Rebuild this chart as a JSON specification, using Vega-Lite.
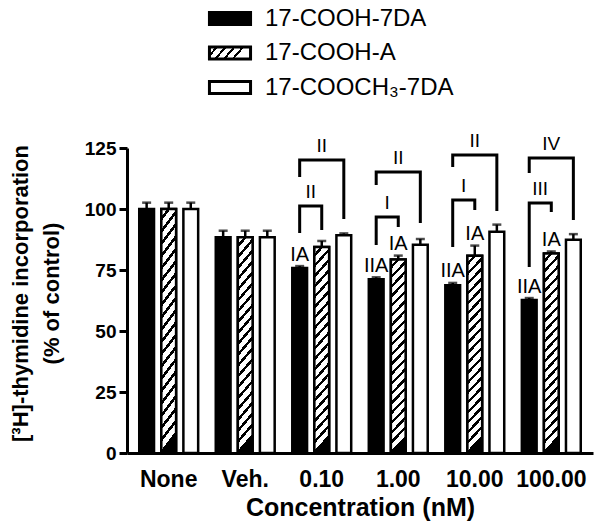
{
  "$schema": "https://vega.github.io/schema/vega-lite/v6.json",
  "width": 466,
  "height": 305,
  "autosize": {"type": "none"},
  "padding": {"left": 127, "top": 148, "right": 7, "bottom": 77},
  "background": "white",
  "config": {"view": {"stroke": null}, "font": "Liberation Sans"},
  "datasets": {
    "bars": [
      {"conc": "None", "series": "17-COOH-7DA", "value": 100, "upper": 102.6, "sig": ""},
      {"conc": "None", "series": "17-COOH-A", "value": 100, "upper": 102.6, "sig": ""},
      {"conc": "None", "series": "17-COOCH₃-7DA", "value": 100, "upper": 102.6, "sig": ""},
      {"conc": "Veh.", "series": "17-COOH-7DA", "value": 88.4, "upper": 91.1, "sig": ""},
      {"conc": "Veh.", "series": "17-COOH-A", "value": 88.4, "upper": 91.1, "sig": ""},
      {"conc": "Veh.", "series": "17-COOCH₃-7DA", "value": 88.4, "upper": 91.1, "sig": ""},
      {"conc": "0.10", "series": "17-COOH-7DA", "value": 75.8, "upper": 76.6, "sig": "IA"},
      {"conc": "0.10", "series": "17-COOH-A", "value": 84.4, "upper": 86.9, "sig": ""},
      {"conc": "0.10", "series": "17-COOCH₃-7DA", "value": 89.2, "upper": 90.0, "sig": ""},
      {"conc": "1.00", "series": "17-COOH-7DA", "value": 71.2, "upper": 72.0, "sig": "IIA"},
      {"conc": "1.00", "series": "17-COOH-A", "value": 79.3, "upper": 80.9, "sig": "IA"},
      {"conc": "1.00", "series": "17-COOCH₃-7DA", "value": 85.3, "upper": 87.7, "sig": ""},
      {"conc": "10.00", "series": "17-COOH-7DA", "value": 68.8, "upper": 69.7, "sig": "IIA"},
      {"conc": "10.00", "series": "17-COOH-A", "value": 80.8, "upper": 85.0, "sig": "IA"},
      {"conc": "10.00", "series": "17-COOCH₃-7DA", "value": 90.7, "upper": 93.6, "sig": ""},
      {"conc": "100.00", "series": "17-COOH-7DA", "value": 62.7, "upper": 63.5, "sig": "IIA"},
      {"conc": "100.00", "series": "17-COOH-A", "value": 81.8, "upper": 82.6, "sig": "IA"},
      {"conc": "100.00", "series": "17-COOCH₃-7DA", "value": 87.4, "upper": 89.7, "sig": ""}
    ],
    "brackets": [
      {"id": "b1", "conc": "0.10", "series": "17-COOH-7DA", "y": 90.2, "step": 1},
      {"id": "b1", "conc": "0.10", "series": "17-COOH-7DA", "y": 101.2, "step": 2},
      {"id": "b1", "conc": "0.10", "series": "17-COOH-A", "y": 101.2, "step": 3},
      {"id": "b1", "conc": "0.10", "series": "17-COOH-A", "y": 91.4, "step": 4},
      {"id": "b2", "conc": "0.10", "series": "17-COOH-7DA", "y": 113.1, "step": 1},
      {"id": "b2", "conc": "0.10", "series": "17-COOH-7DA", "y": 120.1, "step": 2},
      {"id": "b2", "conc": "0.10", "series": "17-COOCH₃-7DA", "y": 120.1, "step": 3},
      {"id": "b2", "conc": "0.10", "series": "17-COOCH₃-7DA", "y": 95.9, "step": 4},
      {"id": "b3", "conc": "1.00", "series": "17-COOH-7DA", "y": 85.2, "step": 1},
      {"id": "b3", "conc": "1.00", "series": "17-COOH-7DA", "y": 96.7, "step": 2},
      {"id": "b3", "conc": "1.00", "series": "17-COOH-A", "y": 96.7, "step": 3},
      {"id": "b3", "conc": "1.00", "series": "17-COOH-A", "y": 92.6, "step": 4},
      {"id": "b4", "conc": "1.00", "series": "17-COOH-7DA", "y": 109.8, "step": 1},
      {"id": "b4", "conc": "1.00", "series": "17-COOH-7DA", "y": 115.2, "step": 2},
      {"id": "b4", "conc": "1.00", "series": "17-COOCH₃-7DA", "y": 115.2, "step": 3},
      {"id": "b4", "conc": "1.00", "series": "17-COOCH₃-7DA", "y": 94.3, "step": 4},
      {"id": "b5", "conc": "10.00", "series": "17-COOH-7DA", "y": 84.4, "step": 1},
      {"id": "b5", "conc": "10.00", "series": "17-COOH-7DA", "y": 103.7, "step": 2},
      {"id": "b5", "conc": "10.00", "series": "17-COOH-A", "y": 103.7, "step": 3},
      {"id": "b5", "conc": "10.00", "series": "17-COOH-A", "y": 99.6, "step": 4},
      {"id": "b6", "conc": "10.00", "series": "17-COOH-7DA", "y": 117.2, "step": 1},
      {"id": "b6", "conc": "10.00", "series": "17-COOH-7DA", "y": 122.1, "step": 2},
      {"id": "b6", "conc": "10.00", "series": "17-COOCH₃-7DA", "y": 122.1, "step": 3},
      {"id": "b6", "conc": "10.00", "series": "17-COOCH₃-7DA", "y": 99.2, "step": 4},
      {"id": "b7", "conc": "100.00", "series": "17-COOH-7DA", "y": 76.2, "step": 1},
      {"id": "b7", "conc": "100.00", "series": "17-COOH-7DA", "y": 102.5, "step": 2},
      {"id": "b7", "conc": "100.00", "series": "17-COOH-A", "y": 102.5, "step": 3},
      {"id": "b7", "conc": "100.00", "series": "17-COOH-A", "y": 98.8, "step": 4},
      {"id": "b8", "conc": "100.00", "series": "17-COOH-7DA", "y": 114.8, "step": 1},
      {"id": "b8", "conc": "100.00", "series": "17-COOH-7DA", "y": 120.9, "step": 2},
      {"id": "b8", "conc": "100.00", "series": "17-COOCH₃-7DA", "y": 120.9, "step": 3},
      {"id": "b8", "conc": "100.00", "series": "17-COOCH₃-7DA", "y": 95.5, "step": 4}
    ],
    "blabels": [
      {"conc": "0.10", "kind": "small", "series": "17-COOH-7DA", "label": "II", "y": 101.2},
      {"conc": "0.10", "kind": "big", "series": "17-COOH-A", "label": "II", "y": 120.1},
      {"conc": "1.00", "kind": "small", "series": "17-COOH-7DA", "label": "I", "y": 96.7},
      {"conc": "1.00", "kind": "big", "series": "17-COOH-A", "label": "II", "y": 115.2},
      {"conc": "10.00", "kind": "small", "series": "17-COOH-7DA", "label": "I", "y": 103.7},
      {"conc": "10.00", "kind": "big", "series": "17-COOH-A", "label": "II", "y": 122.1},
      {"conc": "100.00", "kind": "small", "series": "17-COOH-7DA", "label": "III", "y": 102.5},
      {"conc": "100.00", "kind": "big", "series": "17-COOH-A", "label": "IV", "y": 120.9}
    ]
  },
  "layer": [
    {
      "data": {"name": "bars"},
      "mark": {"type": "bar", "stroke": "black", "strokeWidth": 2.5},
      "encoding": {
        "x": {
          "field": "conc", "type": "nominal",
          "sort": ["None", "Veh.", "0.10", "1.00", "10.00", "100.00"],
          "scale": {"domain": ["None", "Veh.", "0.10", "1.00", "10.00", "100.00"], "paddingInner": 0.23, "paddingOuter": 0.16},
          "axis": {
            "title": "Concentration (nM)", "labelAngle": 0, "ticks": false, "labelPadding": 15,
            "labelFont": "Liberation Sans", "labelFontWeight": "bold", "labelFontSize": 23, "labelColor": "black",
            "domainColor": "black", "domainWidth": 3,
            "titleFont": "Liberation Sans", "titleFontSize": 25, "titleFontWeight": "bold", "titleColor": "black", "titlePadding": 4
          }
        },
        "xOffset": {
          "field": "series", "type": "nominal",
          "sort": ["17-COOH-7DA", "17-COOH-A", "17-COOCH₃-7DA"],
          "scale": {"domain": ["17-COOH-7DA", "17-COOH-A", "17-COOCH₃-7DA"], "paddingInner": 0.33, "paddingOuter": 0}
        },
        "y": {
          "field": "value", "type": "quantitative",
          "scale": {"domain": [0, 125], "nice": false},
          "axis": {
            "title": ["[³H]-thymidine incorporation", "(% of control)"],
            "values": [0, 25, 50, 75, 100, 125], "grid": false,
            "tickSize": 8, "tickWidth": 3, "tickColor": "black", "domainWidth": 3, "domainColor": "black",
            "labelFont": "Liberation Sans", "labelFontSize": 19, "labelFontWeight": "bold", "labelColor": "black", "labelPadding": 3,
            "titleFont": "Liberation Sans", "titleFontSize": 22, "titleFontWeight": "bold", "titleColor": "black",
            "titleLineHeight": 31, "titleX": -95, "titleY": 145, "titleAngle": 270, "titleAlign": "center", "titleBaseline": "bottom"
          }
        },
        "fill": {
          "field": "series", "type": "nominal",
          "scale": {
            "domain": ["17-COOH-7DA", "17-COOH-A", "17-COOCH₃-7DA"],
            "range": [
              {"expr": "'black'"},
              {"expr": "{gradient: 'linear', x1: 0, y1: 0, x2: 1, y2: 0.25, stops: [{offset: 0, color: 'white'}, {offset: 0.14, color: 'white'}, {offset: 0.14, color: 'black'}, {offset: 0.2, color: 'black'}, {offset: 0.2, color: 'white'}, {offset: 0.34, color: 'white'}, {offset: 0.34, color: 'black'}, {offset: 0.4, color: 'black'}, {offset: 0.4, color: 'white'}, {offset: 0.54, color: 'white'}, {offset: 0.54, color: 'black'}, {offset: 0.6, color: 'black'}, {offset: 0.6, color: 'white'}, {offset: 0.74, color: 'white'}, {offset: 0.74, color: 'black'}, {offset: 0.8, color: 'black'}, {offset: 0.8, color: 'white'}, {offset: 1, color: 'white'}]}"},
              {"expr": "'white'"}
            ]
          },
          "legend": {
            "title": null, "orient": "none", "legendX": 86.5, "legendY": -146, "direction": "vertical", "padding": 0,
            "symbolType": "M-1.37,-0.4H1.37V0.4H-1.37Z", "symbolSize": 900, "symbolStrokeWidth": 3, "symbolStrokeColor": "black", "symbolOpacity": 1,
            "labelFont": "Liberation Sans", "labelFontSize": 24, "labelColor": "black", "labelOffset": 18.5, "labelLimit": 400, "rowPadding": 5.5
          }
        }
      }
    },
    {
      "data": {"name": "bars"},
      "transform": [{"filter": "datum.series === '17-COOH-A'"}],
      "mark": {"type": "bar", "stroke": "black", "strokeWidth": 2.5,
        "fill": {"gradient": "linear", "x1": 0, "y1": 0, "x2": 0.08, "y2": 1, "stops": [
          {"offset": 0, "color": "white"}, {"offset": 0.0325, "color": "white"}, {"offset": 0.0325, "color": "black"}, {"offset": 0.05, "color": "black"},
          {"offset": 0.05, "color": "white"}, {"offset": 0.0825, "color": "white"}, {"offset": 0.0825, "color": "black"}, {"offset": 0.1, "color": "black"},
          {"offset": 0.1, "color": "white"}, {"offset": 0.1325, "color": "white"}, {"offset": 0.1325, "color": "black"}, {"offset": 0.15, "color": "black"},
          {"offset": 0.15, "color": "white"}, {"offset": 0.1825, "color": "white"}, {"offset": 0.1825, "color": "black"}, {"offset": 0.2, "color": "black"},
          {"offset": 0.2, "color": "white"}, {"offset": 0.2325, "color": "white"}, {"offset": 0.2325, "color": "black"}, {"offset": 0.25, "color": "black"},
          {"offset": 0.25, "color": "white"}, {"offset": 0.2825, "color": "white"}, {"offset": 0.2825, "color": "black"}, {"offset": 0.3, "color": "black"},
          {"offset": 0.3, "color": "white"}, {"offset": 0.3325, "color": "white"}, {"offset": 0.3325, "color": "black"}, {"offset": 0.35, "color": "black"},
          {"offset": 0.35, "color": "white"}, {"offset": 0.3825, "color": "white"}, {"offset": 0.3825, "color": "black"}, {"offset": 0.4, "color": "black"},
          {"offset": 0.4, "color": "white"}, {"offset": 0.4325, "color": "white"}, {"offset": 0.4325, "color": "black"}, {"offset": 0.45, "color": "black"},
          {"offset": 0.45, "color": "white"}, {"offset": 0.4825, "color": "white"}, {"offset": 0.4825, "color": "black"}, {"offset": 0.5, "color": "black"},
          {"offset": 0.5, "color": "white"}, {"offset": 0.5325, "color": "white"}, {"offset": 0.5325, "color": "black"}, {"offset": 0.55, "color": "black"},
          {"offset": 0.55, "color": "white"}, {"offset": 0.5825, "color": "white"}, {"offset": 0.5825, "color": "black"}, {"offset": 0.6, "color": "black"},
          {"offset": 0.6, "color": "white"}, {"offset": 0.6325, "color": "white"}, {"offset": 0.6325, "color": "black"}, {"offset": 0.65, "color": "black"},
          {"offset": 0.65, "color": "white"}, {"offset": 0.6825, "color": "white"}, {"offset": 0.6825, "color": "black"}, {"offset": 0.7, "color": "black"},
          {"offset": 0.7, "color": "white"}, {"offset": 0.7325, "color": "white"}, {"offset": 0.7325, "color": "black"}, {"offset": 0.75, "color": "black"},
          {"offset": 0.75, "color": "white"}, {"offset": 0.7825, "color": "white"}, {"offset": 0.7825, "color": "black"}, {"offset": 0.8, "color": "black"},
          {"offset": 0.8, "color": "white"}, {"offset": 0.8325, "color": "white"}, {"offset": 0.8325, "color": "black"}, {"offset": 0.85, "color": "black"},
          {"offset": 0.85, "color": "white"}, {"offset": 0.8825, "color": "white"}, {"offset": 0.8825, "color": "black"}, {"offset": 0.9, "color": "black"},
          {"offset": 0.9, "color": "white"}, {"offset": 0.9325, "color": "white"}, {"offset": 0.9325, "color": "black"}, {"offset": 0.95, "color": "black"},
          {"offset": 0.95, "color": "white"}, {"offset": 0.9825, "color": "white"}, {"offset": 0.9825, "color": "black"}, {"offset": 1, "color": "black"}
        ]}
      },
      "encoding": {
        "x": {"field": "conc", "type": "nominal", "sort": ["None", "Veh.", "0.10", "1.00", "10.00", "100.00"]},
        "xOffset": {"field": "series", "type": "nominal", "sort": ["17-COOH-7DA", "17-COOH-A", "17-COOCH₃-7DA"]},
        "y": {"field": "value", "type": "quantitative"}
      }
    },
    {
      "data": {"name": "bars"},
      "mark": {"type": "rule", "strokeWidth": 2.5, "color": "black"},
      "encoding": {
        "x": {"field": "conc", "type": "nominal", "sort": ["None", "Veh.", "0.10", "1.00", "10.00", "100.00"]},
        "xOffset": {"field": "series", "type": "nominal", "sort": ["17-COOH-7DA", "17-COOH-A", "17-COOCH₃-7DA"]},
        "y": {"field": "value", "type": "quantitative"},
        "y2": {"field": "upper"}
      }
    },
    {
      "data": {"name": "bars"},
      "mark": {"type": "tick", "orient": "horizontal", "size": 9, "thickness": 2.5, "color": "black"},
      "encoding": {
        "x": {"field": "conc", "type": "nominal", "sort": ["None", "Veh.", "0.10", "1.00", "10.00", "100.00"]},
        "xOffset": {"field": "series", "type": "nominal", "sort": ["17-COOH-7DA", "17-COOH-A", "17-COOCH₃-7DA"]},
        "y": {"field": "upper", "type": "quantitative"}
      }
    },
    {
      "data": {"name": "bars"},
      "transform": [{"filter": "datum.sig !== ''"}],
      "mark": {"type": "text", "baseline": "alphabetic", "dy": -5.5, "fontSize": 20, "font": "Liberation Sans", "color": "black"},
      "encoding": {
        "x": {"field": "conc", "type": "nominal", "sort": ["None", "Veh.", "0.10", "1.00", "10.00", "100.00"]},
        "xOffset": {"field": "series", "type": "nominal", "sort": ["17-COOH-7DA", "17-COOH-A", "17-COOCH₃-7DA"]},
        "y": {"field": "upper", "type": "quantitative"},
        "text": {"field": "sig"}
      }
    },
    {
      "data": {"name": "brackets"},
      "mark": {"type": "line", "color": "black", "strokeWidth": 3},
      "encoding": {
        "x": {"field": "conc", "type": "nominal", "sort": ["None", "Veh.", "0.10", "1.00", "10.00", "100.00"]},
        "xOffset": {"field": "series", "type": "nominal", "sort": ["17-COOH-7DA", "17-COOH-A", "17-COOCH₃-7DA"]},
        "y": {"field": "y", "type": "quantitative"},
        "detail": {"field": "id"},
        "order": {"field": "step", "type": "quantitative"}
      }
    },
    {
      "data": {"name": "blabels"},
      "transform": [{"filter": "datum.kind === 'big'"}],
      "mark": {"type": "text", "baseline": "alphabetic", "dy": -8, "fontSize": 19, "font": "Liberation Sans", "color": "black"},
      "encoding": {
        "x": {"field": "conc", "type": "nominal", "sort": ["None", "Veh.", "0.10", "1.00", "10.00", "100.00"]},
        "xOffset": {"field": "series", "type": "nominal", "sort": ["17-COOH-7DA", "17-COOH-A", "17-COOCH₃-7DA"]},
        "y": {"field": "y", "type": "quantitative"},
        "text": {"field": "label"}
      }
    },
    {
      "data": {"name": "blabels"},
      "transform": [{"filter": "datum.kind === 'small'"}],
      "mark": {"type": "text", "baseline": "alphabetic", "dy": -8, "dx": 11, "fontSize": 19, "font": "Liberation Sans", "color": "black"},
      "encoding": {
        "x": {"field": "conc", "type": "nominal", "sort": ["None", "Veh.", "0.10", "1.00", "10.00", "100.00"]},
        "xOffset": {"field": "series", "type": "nominal", "sort": ["17-COOH-7DA", "17-COOH-A", "17-COOCH₃-7DA"]},
        "y": {"field": "y", "type": "quantitative"},
        "text": {"field": "label"}
      }
    }
  ]
}
